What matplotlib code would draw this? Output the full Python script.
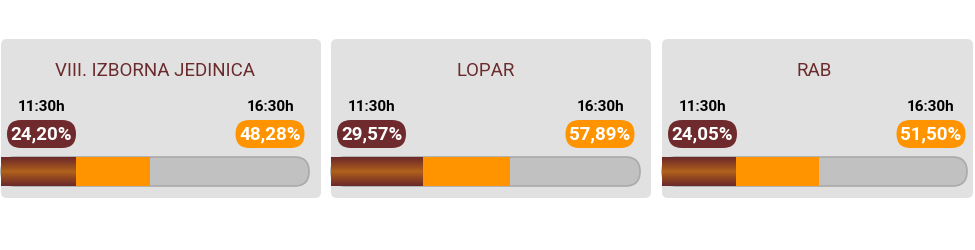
import matplotlib
matplotlib.use("Agg")
import matplotlib.pyplot as plt
import numpy as np
from matplotlib.colors import LinearSegmentedColormap
from matplotlib.patches import FancyBboxPatch

plt.rcParams["font.family"] = ["Roboto", "DejaVu Sans"]

# turnout data
regions = ["VIII. IZBORNA JEDINICA", "LOPAR", "RAB"]
times = ["11:30h", "16:30h"]
turnout_1130 = [24.20, 29.57, 24.05]
turnout_1630 = [48.28, 57.89, 51.50]

# layout (pixels)
card_left = [1, 331, 662]
card_width = [320, 320, 311]
bar_width = [308, 309, 305]
card_top, card_bottom = 39, 198
bar_top, bar_bottom = 157, 186

maroon = "#6e2a2c"
orange = "#ff9400"
card_bg = "#e1e1e1"
track = "#c1c1c1"
brown_cmap = LinearSegmentedColormap.from_list(
    "brown", ["#6b2a2c", "#8d4322", "#b0621c", "#8d4322", "#6b2a2c"])


def fmt(v):
    return f"{v:.2f}".replace(".", ",") + "%"


def pill(ax, cx, cy, text, color):
    w, h = 69, 28
    ax.add_patch(FancyBboxPatch((cx - w / 2, cy - h / 2), w, h,
                                boxstyle=f"round,pad=0,rounding_size={h / 2}",
                                facecolor=color, edgecolor="none", zorder=3))
    ax.text(cx, cy + 0.5, text, ha="center", va="center", color="white",
            fontsize=13.5, fontweight="bold", zorder=4)


fig = plt.figure(figsize=(9.75, 2.5), dpi=100)
ax = fig.add_axes([0, 0, 1, 1])
ax.set_xlim(0, 975)
ax.set_ylim(250, 0)
ax.axis("off")

for i, name in enumerate(regions):
    x0 = card_left[i]
    bw = bar_width[i]
    ax.add_patch(FancyBboxPatch((x0, card_top), card_width[i],
                                card_bottom - card_top,
                                boxstyle="round,pad=0,rounding_size=6",
                                facecolor=card_bg, edgecolor="none", zorder=1))

    ax.text(x0 + bw / 2, 71, name, ha="center", va="center", color="#6b2a2c",
            fontsize=13.5, zorder=2)

    left_c = x0 + 40.5
    right_c = x0 + 269
    ax.text(left_c, 107, times[0], ha="center", va="center", color="black",
            fontsize=11, fontweight="bold", zorder=2)
    ax.text(right_c, 107, times[1], ha="center", va="center", color="black",
            fontsize=11, fontweight="bold", zorder=2)
    pill(ax, left_c, 134, fmt(turnout_1130[i]), maroon)
    pill(ax, right_c, 134, fmt(turnout_1630[i]), orange)

    # track
    h = bar_bottom - bar_top
    ax.add_patch(FancyBboxPatch((x0, bar_top), bw, h,
                                boxstyle=f"round,pad=0,rounding_size={h / 2}",
                                facecolor=track, edgecolor="#aaaaaa",
                                linewidth=1.2, zorder=2))
    scale = bw / 100
    ax.barh((bar_top + bar_bottom) / 2, turnout_1630[i] * scale, height=h,
            left=x0, color=orange, zorder=3)
    w1 = turnout_1130[i] * scale
    grad = np.linspace(0, 1, 64).reshape(-1, 1)
    ax.imshow(grad, cmap=brown_cmap, aspect="auto",
              extent=[x0, x0 + w1, bar_bottom, bar_top], zorder=4)

ax.set_xlim(0, 975)
ax.set_ylim(250, 0)
fig.savefig("out.png", dpi=100, facecolor="white")
